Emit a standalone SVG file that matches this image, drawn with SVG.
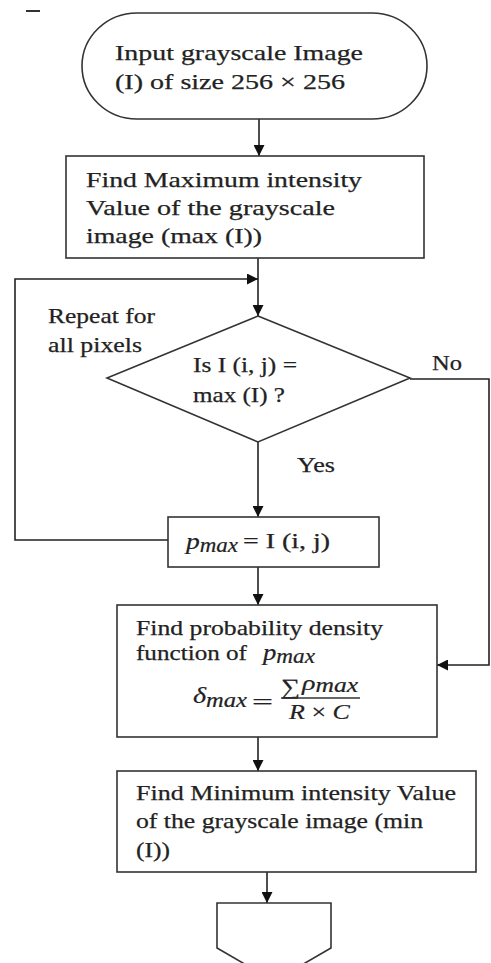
<svg xmlns="http://www.w3.org/2000/svg" width="491" height="963" viewBox="0 0 491 963">
<defs>
<style>
.shape{fill:#fff;stroke:#333;stroke-width:1.6}
.conn{fill:none;stroke:#222;stroke-width:1.6}
.t{font-family:"Liberation Serif","Times New Roman",serif;font-size:22px;fill:#222;stroke:#222;stroke-width:0.25}
.m{font-family:"Liberation Serif","Times New Roman",serif;font-style:italic;fill:#222;stroke:#222;stroke-width:0.2}
</style>
<marker id="ah" viewBox="0 0 10 10" refX="10" refY="5" markerWidth="11" markerHeight="11" markerUnits="userSpaceOnUse" orient="auto">
<path d="M0,0 L10,5 L0,10 Z" fill="#111"/>
</marker>
</defs>
<rect width="491" height="963" fill="#fff"/>
<path d="M26,11 H40" stroke="#333" stroke-width="2"/>

<g id="connectors">
<line class="conn" x1="259" y1="119" x2="259" y2="156" marker-end="url(#ah)"/>
<line class="conn" x1="258" y1="258" x2="258" y2="316" marker-end="url(#ah)"/>
<path class="conn" d="M168,540 H15 V279 H258" marker-end="url(#ah)"/>
<line class="conn" x1="258" y1="442" x2="258" y2="517" marker-end="url(#ah)"/>
<path class="conn" d="M410,379 H489 V665 H437" marker-end="url(#ah)"/>
<line class="conn" x1="258" y1="567" x2="258" y2="605" marker-end="url(#ah)"/>
<line class="conn" x1="258" y1="737" x2="258" y2="771" marker-end="url(#ah)"/>
<line class="conn" x1="267" y1="872" x2="267" y2="903" marker-end="url(#ah)"/>
<text class="t" x="48" y="323" textLength="107" lengthAdjust="spacingAndGlyphs">Repeat for</text>
<text class="t" x="48" y="352" textLength="94" lengthAdjust="spacingAndGlyphs">all pixels</text>
<text class="t" x="432" y="370" textLength="30" lengthAdjust="spacingAndGlyphs">No</text>
<text class="t" x="297" y="472" textLength="38" lengthAdjust="spacingAndGlyphs">Yes</text>
</g>

<g id="start">
<rect class="shape" x="82" y="13" width="345" height="106" rx="55" ry="53"/>
<text class="t" x="115" y="60" textLength="248" lengthAdjust="spacingAndGlyphs">Input grayscale Image</text>
<text class="t" x="115" y="89" textLength="230" lengthAdjust="spacingAndGlyphs">(I) of size 256 × 256</text>
</g>

<g id="find-max">
<rect class="shape" x="66" y="156" width="358" height="102"/>
<text class="t" x="86" y="187" textLength="276" lengthAdjust="spacingAndGlyphs">Find Maximum intensity</text>
<text class="t" x="86" y="215" textLength="249" lengthAdjust="spacingAndGlyphs">Value of the grayscale</text>
<text class="t" x="86" y="243" textLength="176" lengthAdjust="spacingAndGlyphs">image (max (I))</text>
</g>

<g id="decision">
<polygon class="shape" points="258,316 410,378 258,442 107,378"/>
<text class="t" x="193" y="372" textLength="104" lengthAdjust="spacingAndGlyphs">Is I (i, j) =</text>
<text class="t" x="193" y="402" textLength="92" lengthAdjust="spacingAndGlyphs">max (I) ?</text>
</g>

<g id="pmax">
<rect class="shape" x="168" y="517" width="211" height="50"/>
<text class="m" x="186" y="549" font-size="24" textLength="52" lengthAdjust="spacingAndGlyphs">p<tspan font-size="20" dy="3">max</tspan></text>
<text class="t" x="243" y="548" textLength="87" lengthAdjust="spacingAndGlyphs">= I (i, j)</text>
</g>

<g id="pdf">
<rect class="shape" x="117" y="605" width="320" height="132"/>
<text class="t" x="136" y="635" textLength="247" lengthAdjust="spacingAndGlyphs">Find probability density</text>
<text class="t" x="136" y="660" textLength="111" lengthAdjust="spacingAndGlyphs">function of</text>
<text class="m" x="263" y="660" font-size="23" textLength="52" lengthAdjust="spacingAndGlyphs">p<tspan font-size="20" dy="3">max</tspan></text>
<text class="m" x="193" y="703" font-size="23" textLength="54" lengthAdjust="spacingAndGlyphs">δ<tspan font-size="20" dy="4">max</tspan></text>
<text class="t" x="252" y="709" font-size="28" textLength="21" lengthAdjust="spacingAndGlyphs">=</text>
<text class="t" x="281" y="694" font-size="30" textLength="19" lengthAdjust="spacingAndGlyphs">∑</text>
<text class="m" x="302" y="690" font-size="22" textLength="56" lengthAdjust="spacingAndGlyphs">ρ<tspan font-size="20" dy="2">max</tspan></text>
<line x1="281" y1="698" x2="360" y2="698" stroke="#333" stroke-width="1.4"/>
<text class="m" x="289" y="719" font-size="22" textLength="61" lengthAdjust="spacingAndGlyphs">R <tspan font-style="normal">×</tspan> C</text>
</g>

<g id="find-min">
<rect class="shape" x="117" y="771" width="359" height="101"/>
<text class="t" x="136" y="800" textLength="320" lengthAdjust="spacingAndGlyphs">Find Minimum intensity Value</text>
<text class="t" x="136" y="828" textLength="287" lengthAdjust="spacingAndGlyphs">of the grayscale image (min</text>
<text class="t" x="136" y="857" textLength="34" lengthAdjust="spacingAndGlyphs">(I))</text>
</g>

<g id="offpage">
<path class="shape" d="M217,903 H331 V948 L274,981 L217,948 Z"/>
</g>
</svg>
